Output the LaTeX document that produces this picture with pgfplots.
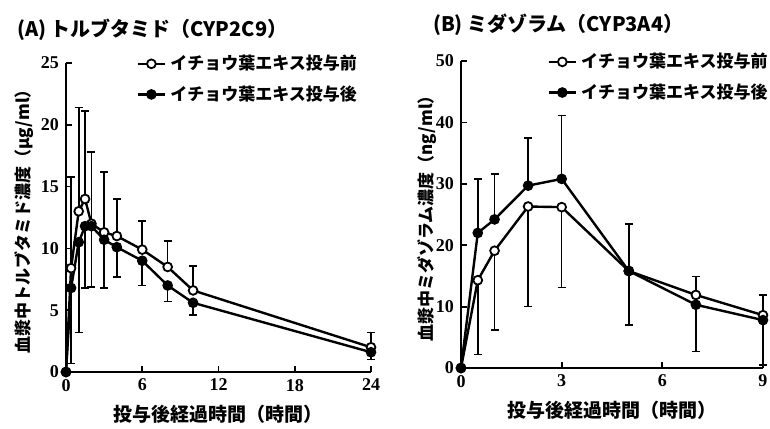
\documentclass[border=0pt]{standalone}
\usepackage{pgfplots}
\pgfplotsset{compat=1.18}
\usepackage{fontspec}
\setmainfont{Liberation Serif}
\newfontfamily\cjk{Noto Sans CJK JP}
\pgfplotsset{
  myax/.style={
    scale only axis,
    axis lines=left,
    axis line style={line width=1pt,-},
    tick align=inside,
    major tick length=3pt,
    every tick/.style={line width=0.9pt,black},
    tick label style={font=\bfseries\fontsize{9}{9}\selectfont},
    /pgf/number format/assume math mode=true,
    xlabel style={font=\cjk\bfseries\fontsize{9.5}{10}\selectfont},
    ylabel style={font=\cjk\bfseries\fontsize{8.5}{10}\selectfont},
    legend style={draw=none, fill=none, font=\cjk\bfseries\fontsize{8.5}{10}\selectfont,
      anchor=north west, cells={anchor=west}, row sep=2.5pt, inner sep=0pt},
    legend image code/.code={\draw[mark repeat=2,mark phase=2] plot coordinates {(0cm,0cm)(0.24cm,0cm)(0.48cm,0cm)};},
    clip=false,
  },
  pre/.style={black, line width=1.2pt, mark=*, mark size=2.2pt, mark options={fill=white, line width=0.9pt},
    error bars/.cd, y dir=both, y explicit, error bar style={line width=0.8pt}, error mark options={line width=0.8pt, mark size=2pt, rotate=90}},
  post/.style={black, line width=1.2pt, mark=*, mark size=2.2pt, mark options={fill=black, line width=0.9pt},
    error bars/.cd, y dir=both, y explicit, error bar style={line width=0.8pt}, error mark options={line width=0.8pt, mark size=2pt, rotate=90}},
}
\begin{document}
\begin{tikzpicture}
\useasboundingbox (0pt,0pt) rectangle (385pt,214pt);
\node[anchor=west, font=\cjk\bfseries\fontsize{10}{11}\selectfont] at (5pt,199pt) {(A) トルブタミド（CYP2C9）};
\node[anchor=west, font=\cjk\bfseries\fontsize{10}{11}\selectfont] at (213pt,201.5pt) {(B) ミダゾラム（CYP3A4）};
% Panel A
\begin{axis}[myax, at={(33pt,28pt)}, anchor=south west, width=152.5pt, height=154.5pt,
  xmin=0, xmax=24, ymin=0, ymax=25,
  xtick={0,6,12,18,24}, ytick={0,5,10,15,20,25},
  xlabel={投与後経過時間（時間）},
  ylabel={血漿中トルブタミド濃度（μg/ml）},
  ylabel shift=-3pt,
  legend style={at={(rel axis cs:0.23,1.04)}},
]
\addplot[pre] coordinates {
 (0,0) += (0,0) -= (0,0)
 (0.4,8.4) += (0,7.4) -= (0,0)
 (1,13.0) += (0,8.4) -= (0,0)
 (1.5,14.0) += (0,7.1) -= (0,0)
 (2,12.0) += (0,5.8) -= (0,0)
 (3,11.3) += (0,4.9) -= (0,0)
 (4,11.0) += (0,3.0) -= (0,0)
 (6,9.9) += (0,2.3) -= (0,0)
 (8,8.5) += (0,2.1) -= (0,0)
 (10,6.6) += (0,2.0) -= (0,0)
 (24,2.0) += (0,1.2) -= (0,0)
};
\addlegendentry{イチョウ葉エキス投与前}
\addplot[post] coordinates {
 (0,0) += (0,0) -= (0,0)
 (0.4,6.8) += (0,0) -= (0,6.1)
 (1,10.5) += (0,0) -= (0,7.3)
 (1.5,11.8) += (0,0) -= (0,5.0)
 (2,11.8) += (0,0) -= (0,4.9)
 (3,10.7) += (0,0) -= (0,3.9)
 (4,10.1) += (0,0) -= (0,2.4)
 (6,9.0) += (0,0) -= (0,2.0)
 (8,7.0) += (0,0) -= (0,1.3)
 (10,5.6) += (0,0) -= (0,1.0)
 (24,1.6) += (0,0) -= (0,0.6)
};
\addlegendentry{イチョウ葉エキス投与後}
\end{axis}
% Panel B
\begin{axis}[myax, at={(230.5pt,30pt)}, anchor=south west, width=151pt, height=153.5pt,
  xmin=0, xmax=9, ymin=0, ymax=50,
  xtick={0,3,6,9}, ytick={0,10,20,30,40,50},
  xlabel={投与後経過時間（時間）},
  ylabel={血漿中ミダゾラム濃度（ng/ml）},
  ylabel shift=-7pt,
  legend style={at={(rel axis cs:0.285,1.04)}},
]
\addplot[pre] coordinates {
 (0,0) += (0,0) -= (0,0)
 (0.5,14.3) += (0,0) -= (0,12.1)
 (1,19.1) += (0,0) -= (0,12.9)
 (2,26.3) += (0,0) -= (0,16.3)
 (3,26.2) += (0,0) -= (0,13.1)
 (5,15.8) += (0,0) -= (0,8.8)
 (7,11.9) += (0,3.0) -= (0,0)
 (9,8.6) += (0,3.3) -= (0,0)
};
\addlegendentry{イチョウ葉エキス投与前}
\addplot[post] coordinates {
 (0,0) += (0,0) -= (0,0)
 (0.5,22.0) += (0,8.8) -= (0,0)
 (1,24.2) += (0,7.4) -= (0,0)
 (2,29.7) += (0,7.8) -= (0,0)
 (3,30.8) += (0,10.3) -= (0,0)
 (5,15.8) += (0,7.7) -= (0,0)
 (7,10.3) += (0,0) -= (0,7.6)
 (9,7.8) += (0,0) -= (0,7.3)
};
\addlegendentry{イチョウ葉エキス投与後}
\end{axis}
\end{tikzpicture}
\end{document}
